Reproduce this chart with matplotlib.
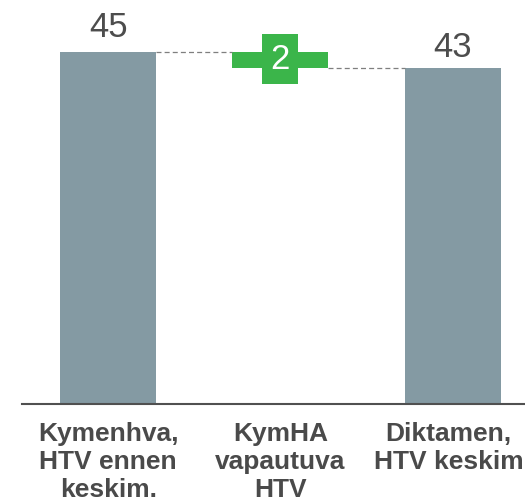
import matplotlib
matplotlib.use("Agg")
import matplotlib.pyplot as plt
import matplotlib.transforms as mtransforms

categories = ["Kymenhva,\nHTV ennen\nkeskim.", "KymHA\nvapautuva\nHTV", "Diktamen,\nHTV keskim"]
start_value = 45
change_value = -2
end_value = 43

gray = "#849AA3"
green = "#3BB54A"

plt.rcParams['font.family'] = ['Liberation Sans', 'DejaVu Sans']

fig = plt.figure(figsize=(5.25, 5.04), dpi=100)
ax = fig.add_axes([22/525, 100/504, 1 - 22/525, 404/504])

x = [0, 1, 2]
w = 0.557
ax.bar(x[0], start_value, width=w, color=gray)
ax.bar(x[2], end_value, width=w, color=gray)
low = start_value + change_value
ax.bar(x[1], abs(change_value), bottom=low, width=w, color=green)

# connectors
ax.plot([x[0] + w/2, x[1] - w/2], [start_value, start_value], ls=(0, (4, 2.5)), color="#7f7f7f", lw=0.9)
ax.plot([x[1] + w/2, x[2] - w/2], [low, low], ls=(0, (4, 2.5)), color="#7f7f7f", lw=0.9)

ax.text(x[0], start_value + 1.92, f"{start_value}", ha="center", va="baseline", fontsize=25, color="#4d4d4d")
ax.text(x[2], end_value + 1.36, f"{end_value}", ha="center", va="baseline", fontsize=25, color="#4d4d4d")
ax.text(x[1], (start_value + low) / 2 + 0.1, f"{abs(change_value)}", ha="center", va="center",
        fontsize=25, color="white",
        bbox=dict(boxstyle="square,pad=0.24", fc=green, ec="none"))

ax.set_xlim(-0.5, 2.42)
ax.set_ylim(0, 404 / 7.822)
ax.set_xticks(x)
ax.set_xticklabels(categories, fontsize=19, fontweight="bold", color="#4a4a4a", linespacing=1.22)
ax.tick_params(axis="x", length=0, pad=13)
lbls = ax.get_xticklabels()
lbls[2].set_transform(lbls[2].get_transform() + mtransforms.ScaledTranslation(-4/100, 0, fig.dpi_scale_trans))
ax.set_yticks([])
for s in ["top", "right", "left"]:
    ax.spines[s].set_visible(False)
ax.spines["bottom"].set_color("#505050")
ax.spines["bottom"].set_linewidth(1.5)

fig.savefig("out.png", dpi=100)
